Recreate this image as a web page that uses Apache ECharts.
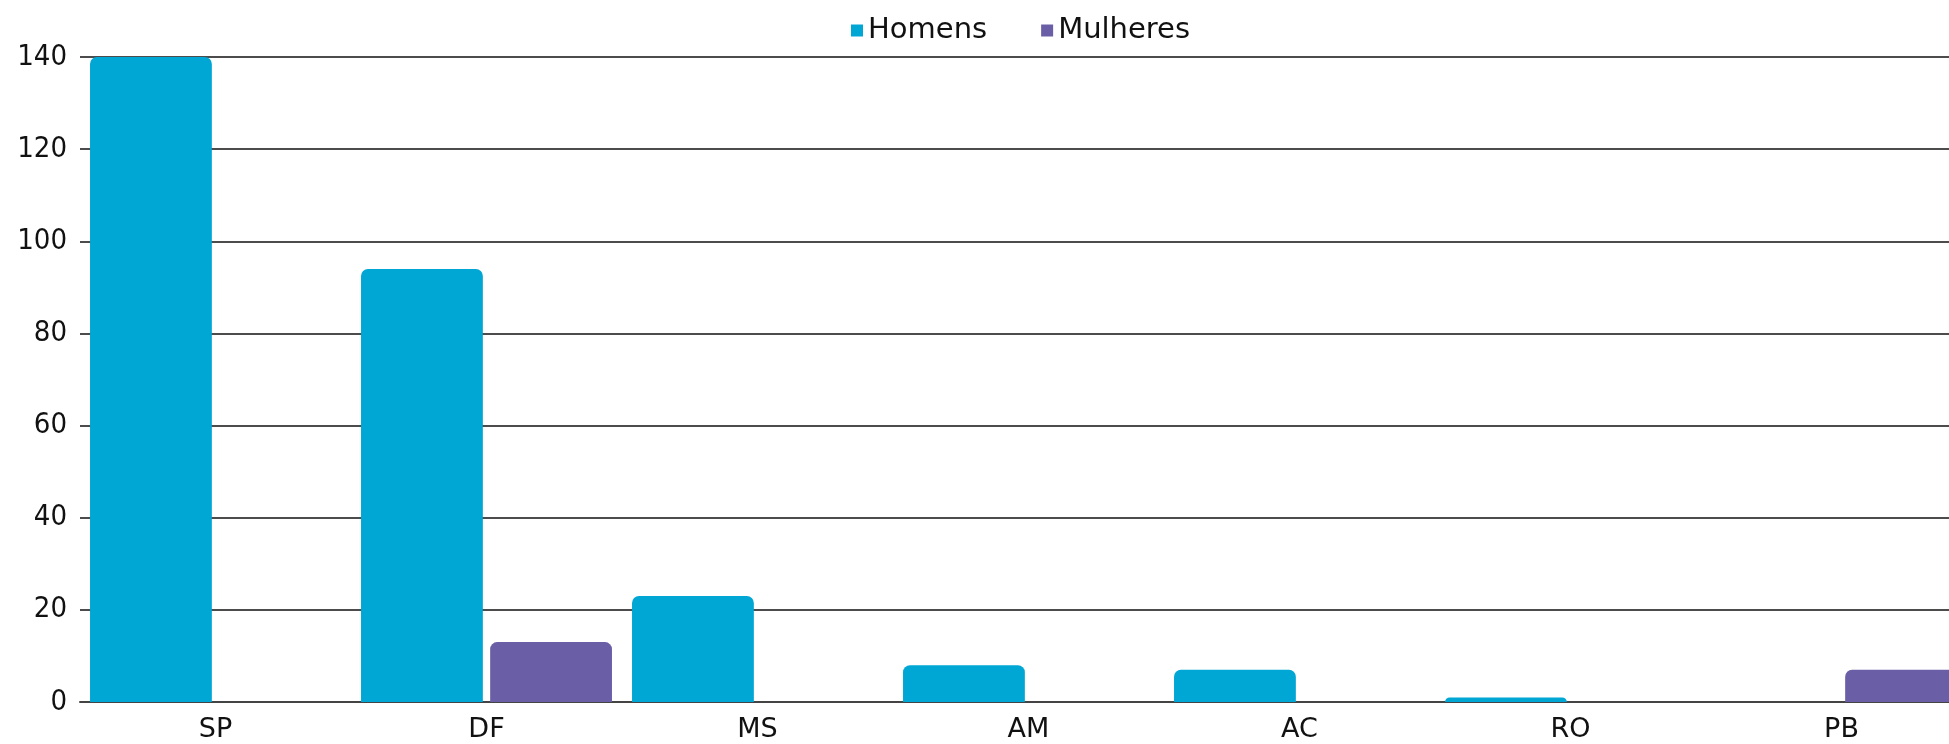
<!DOCTYPE html>
<html>
<head>
<meta charset="utf-8">
<script src="https://cdn.jsdelivr.net/npm/echarts@6/dist/echarts.min.js"></script>
<style>
  html, body { margin: 0; padding: 0; background: #fff; overflow: hidden; }
  /* wider than the window: the last bar is cut off at the right, as in the source */
  #graph { width: 1977px; height: 744px; }
</style>
</head>
<body>
<div id="graph"></div>
<script>
const states = ['SP', 'DF', 'MS', 'AM', 'AC', 'RO', 'PB']
const homens = [140, 94, 23, 8, 7, 1, 0]
const mulheres = [0, 13, 0, 0, 0, 0, 7]
const yTicks = [0, 20, 40, 60, 80, 100, 120, 140]

const dom = document.getElementById('graph')
const chart = echarts.init(dom)

const option = {
  animation: false,
  legend: {
    data: ['Homens', 'Mulheres'],
    left: 846,
    top: 11,
    itemWidth: 12,
    itemHeight: 12,
    itemGap: 54,
    icon: 'rect',
    textStyle: {
      fontFamily: 'DejaVu Sans',
      fontSize: 29,
      color: '#111'
    }
  },
  grid: {
    left: 80,
    top: 57,
    right: 0,
    height: 645
  },
  xAxis: {
    type: 'category',
    data: states,
    axisTick: { show: false },
    axisLine: { lineStyle: { color: '#444', width: 2 } },
    axisLabel: {
      fontFamily: 'DejaVu Sans',
      fontSize: 27,
      color: '#111',
      margin: 14
    }
  },
  yAxis: {
    type: 'value',
    min: yTicks[0],
    max: yTicks[yTicks.length - 1],
    interval: 20,
    axisLine: { show: false },
    axisTick: { show: false },
    axisLabel: {
      fontFamily: 'DejaVu Sans Condensed',
      fontSize: 29,
      color: '#111',
      margin: 13
    },
    splitLine: { lineStyle: { color: '#111', width: 1.5 } }
  },
  series: [
    {
      name: 'Homens',
      type: 'bar',
      data: homens,
      barGap: '6%',
      barCategoryGap: '7.4%',
      itemStyle: { color: '#01A7D4', borderRadius: [7, 7, 0, 0] }
    },
    {
      name: 'Mulheres',
      type: 'bar',
      data: mulheres,
      itemStyle: { color: '#6A5FA6', borderRadius: [7, 7, 0, 0] }
    }
  ]
}

chart.setOption(option)
</script>
</body>
</html>
